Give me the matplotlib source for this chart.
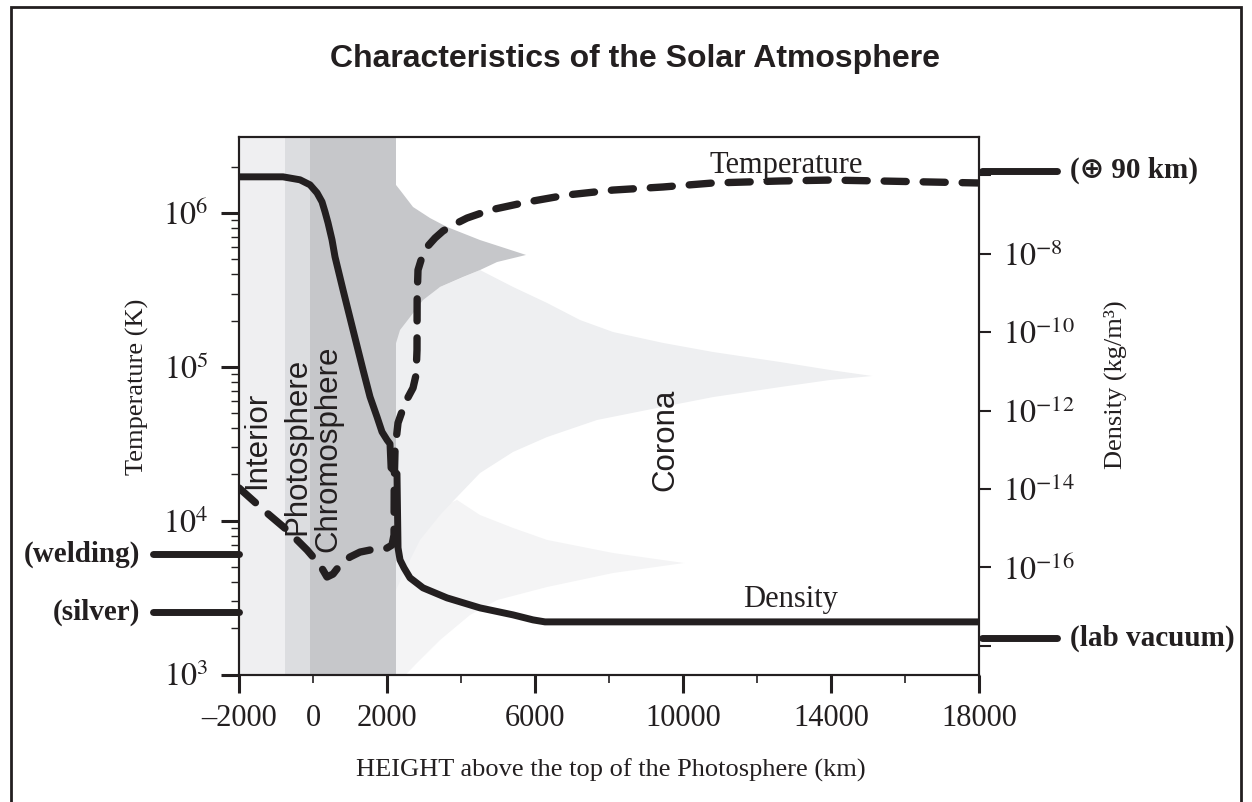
import numpy as np
import matplotlib
matplotlib.use("Agg")
import matplotlib.pyplot as plt
from matplotlib import transforms
from matplotlib.patches import Rectangle
from matplotlib.ticker import NullFormatter, NullLocator, FixedLocator

INK = "#231f20"
plt.rcParams["font.family"] = "Liberation Serif"
plt.rcParams["mathtext.fontset"] = "stix"
plt.rcParams["text.color"] = INK
plt.rcParams["axes.edgecolor"] = INK
plt.rcParams["xtick.color"] = INK
plt.rcParams["ytick.color"] = INK

# ---- data ----
title = "Characteristics of the Solar Atmosphere"

# layers of the atmosphere (km above top of photosphere)
layer_names = ["Interior", "Photosphere", "Chromosphere"]
layer_edges = [-2000, -757, -80, 2244]
layer_colors = ["#efeff1", "#dcdde0", "#c6c7ca"]
layer_label_km = [-1513, -432, 406]
layer_label_logT = [4.525, 4.486, 4.469]

# temperature profile: height (km), log10 T (K)
temp_km = [-2000, -1243, -703, -162, 189, 379, 541, 730, 1000, 1270, 1676, 2000,
           2135, 2190, 2195, 2217, 2298, 2487, 2703, 2784, 2811, 2815, 2838, 2946,
           3082, 3298, 3514, 3838, 4163, 4784, 5785, 6866, 8109, 9460, 10812,
           12623, 13974, 15326, 18000]
temp_logK = [4.213, 4.050, 3.940, 3.810, 3.712, 3.634, 3.653, 3.712, 3.764, 3.796,
             3.816, 3.822, 3.842, 3.907, 4.245, 4.460, 4.636, 4.766, 4.863, 4.947,
             5.110, 5.455, 5.630, 5.715, 5.780, 5.838, 5.884, 5.929, 5.968, 6.020,
             6.072, 6.118, 6.150, 6.170, 6.196, 6.209, 6.215, 6.209, 6.196]

# density profile: height (km), log10 rho (kg/m^3)
dens_km = [-2000, -811, -351, -81, 108, 243, 325, 406, 514, 595, 811, 1081, 1352,
           1541, 1730, 1865, 2000, 2081, 2108, 2270, 2298, 2352, 2460, 2622, 2974,
           3622, 4514, 5406, 5947, 6271, 18000]
dens_log = [-6.036, -6.036, -6.112, -6.240, -6.444, -6.673, -6.929, -7.209, -7.643,
            -8.077, -8.918, -9.939, -10.959, -11.648, -12.158, -12.541, -12.745,
            -12.847, -13.459, -13.612, -15.500, -15.806, -16.010, -16.265, -16.520,
            -16.776, -17.031, -17.209, -17.337, -17.388, -17.388]

# coronal streamer shading outlines: height (km), log10 T
plume_dark_km = [2200, 2244, 2352, 2703, 3163, 3622, 4514, 5758, 4974, 4514, 4055,
                 3433, 2974, 2622, 2352, 2244, 2200]
plume_dark_logT = [6.183, 6.183, 6.150, 6.040, 5.968, 5.910, 5.825, 5.728, 5.682,
                   5.630, 5.585, 5.520, 5.435, 5.324, 5.240, 5.155, 5.155]
plume_mid_km = [2200, 2244, 2622, 3244, 4514, 5406, 6325, 7217, 8109, 9460, 10812,
                12623, 13974, 15110, 13974, 12623, 10812, 9028, 7677, 6325, 5406,
                4514, 3892, 3433, 2892, 2487, 2244, 2200]
plume_mid_logT = [5.305, 5.305, 5.435, 5.500, 5.630, 5.520, 5.416, 5.305, 5.227,
                  5.156, 5.097, 5.032, 4.980, 4.941, 4.915, 4.869, 4.804, 4.720,
                  4.655, 4.544, 4.447, 4.310, 4.154, 4.037, 3.875, 3.680, 3.549, 3.549]
plume_low_km = [2200, 2244, 2892, 3433, 3892, 4514, 5406, 6325, 8109, 10028, 8109,
                6325, 4974, 4244, 3433, 2757, 2433, 2200]
plume_low_logT = [3.875, 3.875, 3.992, 4.083, 4.135, 4.037, 3.953, 3.875, 3.790,
                  3.725, 3.660, 3.569, 3.484, 3.387, 3.224, 3.062, 2.98, 2.98]

# reference levels
ref_temp_labels = ["(welding)", "(silver)"]
ref_temp_logK = [3.783, 3.406]
ref_dens_labels = ["(\u2295 90 km)", "(lab vacuum)"]
ref_dens_log = [-5.88, -17.80]

# axes ticks
x_major = [-2000, 2000, 6000, 10000, 14000, 18000]
x_major_labels = ["\u20132000", "2000", "6000", "10000", "14000", "18000"]
x_minor = [0, 4000, 8000, 12000, 16000]
x_minor_labels = ["0", "", "", "", ""]
temp_tick_exp = [3, 4, 5, 6]
temp_minor = [m * 10.0 ** e for e in (3, 4, 5) for m in range(2, 10)] + [2e6]
dens_tick_exp = [-6, -8, -10, -12, -14, -16, -18]
dens_tick_labels = ["", r"$10^{-8}$", r"$10^{-10}$", r"$10^{-12}$", r"$10^{-14}$",
                    r"$10^{-16}$", ""]

# ---- figure ----
W, H = 1252, 802
fig = plt.figure(figsize=(W / 100, H / 100), dpi=100)

def fx(px):
    return px / W

def fy(py):
    return 1 - py / H

fig.add_artist(Rectangle((fx(11), fy(830)), fx(1241) - fx(11), fy(7) - fy(830),
                         transform=fig.transFigure, fill=False, lw=2, ec=INK))

ax = fig.add_axes([fx(239), fy(674.5), fx(979) - fx(239), fy(137) - fy(674.5)])
ax.set_yscale("log")
ax.set_xlim(-2000, 18000)
ax.set_ylim(1e3, 10 ** 6.495)

# shading
ax.fill(plume_low_km, 10.0 ** np.array(plume_low_logT), color="#f4f4f5", lw=0, zorder=0.2)
ax.fill(plume_mid_km, 10.0 ** np.array(plume_mid_logT), color="#eeeff1", lw=0, zorder=0.3)
ax.fill(plume_dark_km, 10.0 ** np.array(plume_dark_logT), color=layer_colors[2], lw=0, zorder=0.4)
for i in range(3):
    ax.axvspan(layer_edges[i], layer_edges[i + 1], color=layer_colors[i], lw=0, zorder=0.5)
    ax.text(layer_label_km[i], 10 ** layer_label_logT[i], layer_names[i], rotation=90,
            ha="center", va="center", family="Liberation Sans", fontsize=22.5, zorder=2)
ax.text(9515, 10 ** 4.525, "Corona", rotation=90, ha="center", va="center",
        family="Liberation Sans", fontsize=22.5, zorder=2)

# temperature curve
ax.plot(temp_km, 10.0 ** np.array(temp_logK), color=INK, lw=5.3, ls=(0, (3.0, 2.3)),
        dash_capstyle="round", dash_joinstyle="round", zorder=3)
ax.text(12785, 10 ** 6.261, "Temperature", ha="center", va="baseline", fontsize=22, zorder=4)
ax.text(12893, 10 ** 3.439, "Density", ha="center", va="baseline", fontsize=22, zorder=4)

# x axis
ax.set_xticks(x_major, labels=x_major_labels)
ax.set_xticks(x_minor, labels=x_minor_labels, minor=True)
ax.tick_params(axis="x", which="major", direction="out", length=13, width=2.2, pad=8,
               labelsize=22, top=False)
ax.tick_params(axis="x", which="minor", direction="out", length=5.8, width=1.2, pad=15.2,
               labelsize=22, top=False)

# left y axis
ax.set_yticks([10.0 ** e for e in temp_tick_exp],
              labels=[r"$10^{%d}$" % e for e in temp_tick_exp])
ax.yaxis.set_minor_locator(FixedLocator(temp_minor))
ax.yaxis.set_minor_formatter(NullFormatter())
ax.tick_params(axis="y", which="major", direction="out", length=13, width=2.2, pad=9,
               labelsize=23, right=False)
ax.tick_params(axis="y", which="minor", direction="out", length=5.8, width=1.0, right=False)

# right y axis (density)
ax2 = ax.twinx()
ax2.set_yscale("log")
ax2.set_ylim(10 ** -18.73, 10 ** -5.02)
ax2.plot(dens_km, 10.0 ** np.array(dens_log), color=INK, lw=5.0,
         solid_capstyle="round", solid_joinstyle="round", zorder=3)
ax2.set_yticks([10.0 ** e for e in dens_tick_exp], labels=dens_tick_labels)
ax2.yaxis.set_minor_locator(NullLocator())
ax2.tick_params(axis="y", which="major", direction="out", length=8.6, width=1.5, pad=9,
                labelsize=23)

for a in (ax, ax2):
    for s in a.spines.values():
        s.set_linewidth(1.5)
        s.set_color(INK)

# reference levels
trL = transforms.blended_transform_factory(ax.transAxes, ax.transData)
for lab, v in zip(ref_temp_labels, ref_temp_logK):
    ax.plot([-0.116, 0.0], [10 ** v, 10 ** v], transform=trL, clip_on=False, lw=5,
            color=INK, solid_capstyle="round")
    ax.text(-0.134, 10 ** v, lab, transform=trL, ha="right", va="center",
            fontsize=21, fontweight="bold")
trR = transforms.blended_transform_factory(ax2.transAxes, ax2.transData)
for lab, v in zip(ref_dens_labels, ref_dens_log):
    ax2.plot([1.004, 1.105], [10 ** v, 10 ** v], transform=trR, clip_on=False, lw=5,
             color=INK, solid_capstyle="round")
    ax2.text(1.123, 10 ** v, lab, transform=trR, ha="left", va="center",
             fontsize=21, fontweight="bold", family=["Liberation Serif", "DejaVu Sans"])

# labels
fig.text(fx(137), fy(387), "Temperature (K)", rotation=90, ha="center", va="center", fontsize=19)
fig.text(fx(1115), fy(385), "Density (kg/m\u00b3)", rotation=90, ha="center", va="center",
         fontsize=19)
fig.text(fx(611), fy(777), "HEIGHT above the top of the Photosphere (km)", ha="center",
         va="baseline", fontsize=19)
fig.text(fx(635), fy(67), title, ha="center", va="baseline", family="Liberation Sans",
         fontweight="bold", fontsize=23)

fig.savefig("out.png", dpi=100)
